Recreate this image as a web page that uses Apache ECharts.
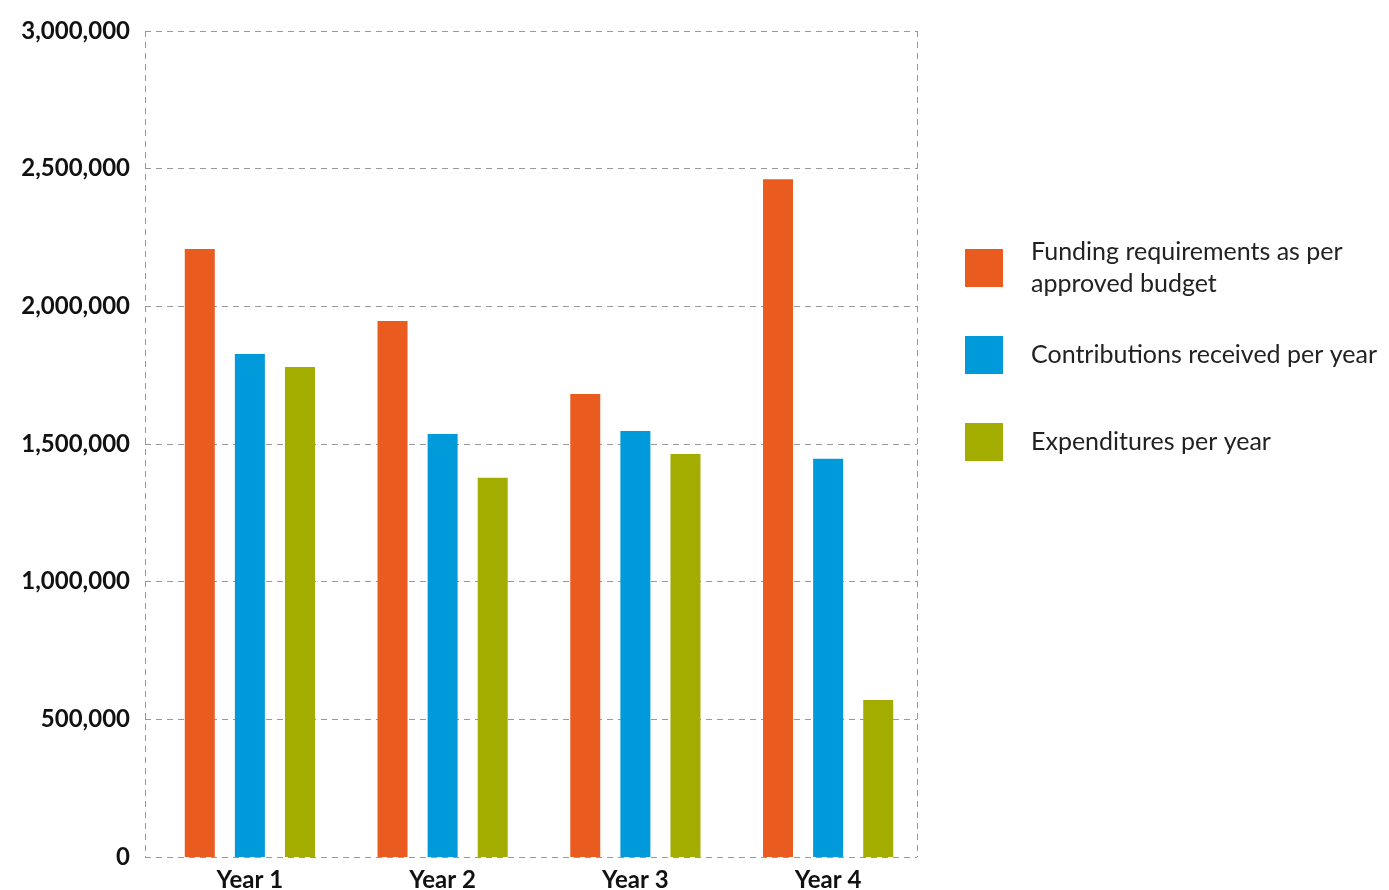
<!DOCTYPE html>
<html>
<head>
<meta charset="utf-8">
<script src="https://cdn.jsdelivr.net/npm/echarts@6/dist/echarts.min.js"></script>
<style>html,body{margin:0;padding:0;background:#fff}#c{width:1389px;height:890px}</style>
</head>
<body>
<div id="c"></div>
<script>
const categories = ['Year 1', 'Year 2', 'Year 3', 'Year 4'];
const seriesNames = ['Funding requirements as per\napproved budget', 'Contributions received per year', 'Expenditures per year'];
const funding = [2208000, 1947000, 1682000, 2462000];
const contributions = [1827000, 1536000, 1547000, 1446000];
const expenditures = [1780000, 1377000, 1464000, 570000];
const yTicks = [0, 500000, 1000000, 1500000, 2000000, 2500000, 3000000];
const colors = ['#E95B1F', '#0099D9', '#A3AD00'];

const FONT = 'Lato, "Noto Sans", sans-serif';
const dash = { type: [6, 5], color: '#999', width: 1 };
const chart = echarts.init(document.getElementById('c'));
const legendBase = {
  orient: 'vertical', left: 960, itemWidth: 38, itemHeight: 38, icon: 'rect',
  textStyle: { fontFamily: FONT, fontSize: 25, color: '#222', lineHeight: 32, padding: [0, 0, 0, 23] },
  selectedMode: false
};
chart.setOption({
  animation: false,
  color: colors,
  legend: [
    Object.assign({}, legendBase, { top: 231, data: [seriesNames[0]] }),
    Object.assign({}, legendBase, { top: 331, data: [seriesNames[1]] }),
    Object.assign({}, legendBase, { top: 418, data: [seriesNames[2]] })
  ],
  grid: [
    { left: 145, top: 31, width: 772, height: 826, containLabel: false, outerBoundsMode: 'none' },
    { left: 153.5, top: 31, width: 771, height: 826, containLabel: false, outerBoundsMode: 'none' }
  ],
  xAxis: [
    { gridIndex: 0, type: 'value', min: 0, max: 1, interval: 1,
      axisLine: { show: false }, axisTick: { show: false }, axisLabel: { show: false },
      splitLine: { show: true, lineStyle: dash } },
    { gridIndex: 1, type: 'category', data: categories,
      axisLine: { show: false }, axisTick: { show: false },
      axisLabel: { fontFamily: FONT, fontWeight: 'bold', fontSize: 24, color: '#111', margin: 11 } }
  ],
  yAxis: [
    { gridIndex: 0, type: 'value', min: 0, max: 3000000, interval: 500000,
      axisLine: { show: false }, axisTick: { show: false },
      axisLabel: { fontFamily: FONT, fontWeight: 'bold', fontSize: 24, color: '#111', margin: 15,
        formatter: v => yTicks.includes(v) ? v.toLocaleString('en-US') : '' },
      splitLine: { show: true, lineStyle: dash } },
    { gridIndex: 1, type: 'value', min: 0, max: 3000000, interval: 500000, show: false,
      splitLine: { show: false } }
  ],
  series: [
    { name: seriesNames[0], type: 'bar', xAxisIndex: 1, yAxisIndex: 1, data: funding, barWidth: 30, barGap: '67%' },
    { name: seriesNames[1], type: 'bar', xAxisIndex: 1, yAxisIndex: 1, data: contributions, barWidth: 30, barGap: '67%' },
    { name: seriesNames[2], type: 'bar', xAxisIndex: 1, yAxisIndex: 1, data: expenditures, barWidth: 30, barGap: '67%' }
  ]
});
</script>
</body>
</html>
